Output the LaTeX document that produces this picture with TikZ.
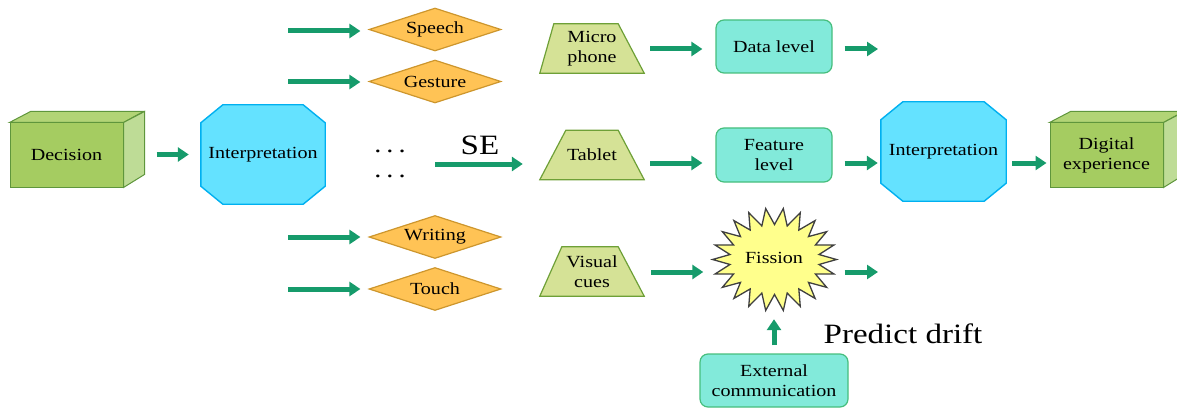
\documentclass[tikz,border=0pt]{standalone}
\usepackage{fontspec}
\setmainfont{Liberation Serif}[FakeStretch=1.18]
\usetikzlibrary{arrows.meta,shapes.geometric,backgrounds}
\definecolor{arrc}{RGB}{22,155,107}
\definecolor{diamf}{RGB}{255,195,85}
\definecolor{diamb}{RGB}{205,150,45}
\definecolor{trapf}{RGB}{213,226,150}
\definecolor{trapb}{RGB}{110,160,55}
\definecolor{rboxf}{RGB}{130,234,218}
\definecolor{rboxb}{RGB}{70,190,125}
\definecolor{octf}{RGB}{100,226,255}
\definecolor{octb}{RGB}{0,176,240}
\definecolor{cubef}{RGB}{165,204,97}
\definecolor{cubes}{RGB}{190,220,150}
\definecolor{cubet}{RGB}{178,212,118}
\definecolor{cubeb}{RGB}{95,150,60}
\definecolor{starf}{RGB}{255,255,140}
\definecolor{starb}{RGB}{64,64,64}
\begin{document}
\begin{tikzpicture}[x=1pt,y=-1pt,
  font=\fontsize{17}{20}\selectfont,
  arr/.style={draw=arrc, line width=5pt, -{Triangle[length=11pt,width=14pt]}},
  diam/.style={diamond, shape aspect=3, draw=diamb, fill=diamf, line width=1.2pt, minimum width=132pt, minimum height=43pt, inner sep=0pt},
  trapnode/.style={rectangle, minimum width=104pt, minimum height=49pt, inner sep=0pt, align=center},
  trapline/.style={draw=trapb, fill=trapf, line width=1.2pt},
  rbox/.style={rectangle, rounded corners=8pt, draw=rboxb, fill=rboxf, line width=1.2pt, minimum width=116pt, minimum height=53pt, align=center, inner sep=0pt},
  octo/.style={rectangle, minimum width=124pt, minimum height=99pt, inner sep=0pt, align=center},
  octline/.style={draw=octb, fill=octf, line width=1.4pt},
  cube/.style={rectangle, draw=cubeb, fill=cubef, line width=1pt, minimum width=113pt, minimum height=64pt, align=center, inner sep=0pt},
  cubeside/.style={draw=cubeb, fill=cubes, line width=1pt},
  cubetop/.style={draw=cubeb, fill=cubet, line width=1pt},
  starnode/.style={rectangle, minimum width=124pt, minimum height=103pt, inner sep=0pt},
  starline/.style={draw=starb, fill=starf, line width=1.3pt, line join=miter},
  big/.style={font=\fontsize{28}{32}\selectfont}
]
\useasboundingbox (0,0) rectangle (1177,409);

% left cube
\node[cube] (dec) at (66.5,155) {Decision};
\draw[cubetop] (dec.north west) -- ++(21,-11) -- ++(113,0) -- (dec.north east) -- cycle;
\draw[cubeside] (dec.north east) -- ++(21,-11) -- ++(0,63) -- (dec.south east) -- cycle;

% interpretation 1
\node[octo] (int1) at (263,154.5) {Interpretation};
\begin{scope}[on background layer]
\draw[octline] ([xshift=22pt]int1.north west) -- ([xshift=-22pt]int1.north east) -- ([yshift=-18pt]int1.north east) -- ([yshift=18pt]int1.south east) -- ([xshift=-22pt]int1.south east) -- ([xshift=22pt]int1.south west) -- ([yshift=18pt]int1.south west) -- ([yshift=-18pt]int1.north west) -- cycle;
\end{scope}

% diamonds
\node[diam] (speech) at (435,29.5) {Speech};
\node[diam] (gesture) at (435,81.5) {Gesture};
\node[diam] (writing) at (435,237) {Writing};
\node[diam] (touch) at (435,289) {Touch};

\coordinate (s1) at (288,31);
\coordinate (s2) at (288,82);
\coordinate (s3) at (288,237);
\coordinate (s4) at (288,289);
\draw[arr, shorten >=8pt] (s1) -- (s1 -| speech.west);
\draw[arr, shorten >=8pt] (s2) -- (s2 -| gesture.west);
\draw[arr, shorten >=8pt] (s3) -- (s3 -| writing.west);
\draw[arr, shorten >=8pt] (s4) -- (s4 -| touch.west);

% dots
\node[anchor=base, font=\fontsize{24}{24}\selectfont] (dots1) at (390,153) {.\hspace{5pt}.\hspace{5pt}.};
\node[anchor=base, font=\fontsize{24}{24}\selectfont] (dots2) at (390,177) {.\hspace{5pt}.\hspace{5pt}.};

% trapezia
\node[trapnode] (micro) at (592,48.5) {Micro\\phone};
\node[trapnode] (tablet) at (592,155) {Tablet};
\node[trapnode] (visual) at (592,271.5) {Visual\\cues};
\begin{scope}[on background layer]
\draw[trapline] (micro.south west) -- (micro.south east) -- ([xshift=-26pt]micro.north east) -- ([xshift=14pt]micro.north west) -- cycle;
\draw[trapline] (tablet.south west) -- (tablet.south east) -- ([xshift=-26pt]tablet.north east) -- ([xshift=26pt]tablet.north west) -- cycle;
\draw[trapline] (visual.south west) -- (visual.south east) -- ([xshift=-26pt]visual.north east) -- ([xshift=22pt]visual.north west) -- cycle;
\end{scope}

% SE arrow
\coordinate (se0) at (435,164);
\draw[arr, shorten >=17pt] (se0) -- (se0 -| tablet.west);
\node[big] (se) at (480,145) {SE};

% rounded boxes
\node[rbox] (data) at (774,46.5) {Data level};
\node[rbox, minimum height=54pt] (feature) at (774,155) {Feature\\level};
\node[rbox, minimum width=148pt] (ext) at (774,380.5) {External\\communication};

% interpretation 2
\node[octo, minimum width=125pt] (int2) at (943.5,151.5) {Interpretation};
\begin{scope}[on background layer]
\draw[octline] ([xshift=22pt]int2.north west) -- ([xshift=-22pt]int2.north east) -- ([yshift=-18pt]int2.north east) -- ([yshift=18pt]int2.south east) -- ([xshift=-22pt]int2.south east) -- ([xshift=22pt]int2.south west) -- ([yshift=18pt]int2.south west) -- ([yshift=-18pt]int2.north west) -- cycle;
\end{scope}

% right cube
\node[cube] (dig) at (1106.5,155) {Digital\\experience};
\draw[cubetop] (dig.north west) -- ++(21,-11) -- ++(113,0) -- (dig.north east) -- cycle;
\draw[cubeside] (dig.north east) -- ++(21,-11) -- ++(0,63) -- (dig.south east) -- cycle;

% fission
\node[starnode] (fis) at (774.5,259.5) {};
\node (fist) at (774,258) {Fission};
\begin{scope}[on background layer, shift={(fis.center)}]
\draw[starline] plot[samples=44, domain=0:43, variable=\k]
  ({ifthenelse(mod(\k,2)==0,62,45)*cos((360/44)*\k)}, {-ifthenelse(mod(\k,2)==0,51.5,35)*sin((360/44)*\k)}) -- cycle;
\end{scope}

% row coordinates
\coordinate (r1) at (0,49);
\coordinate (r2) at (0,163);
\coordinate (r3) at (0,272);
\coordinate (d1) at (878,49);
\coordinate (f1) at (878,272);

% arrows
\draw[arr, shorten <=33pt, shorten >=12pt] (dec.east |- int1) -- (int1.west);
\draw[arr, shorten <=6pt, shorten >=13pt] (micro.east |- r1) -- (data.west |- r1);
\draw[arr, shorten <=12pt] (data.east |- r1) -- (d1);
\draw[arr, shorten <=6pt, shorten >=13pt] (tablet.east |- r2) -- (feature.west |- r2);
\draw[arr, shorten <=12pt, shorten >=3pt] (feature.east |- r2) -- (int2.west |- r2);
\draw[arr, shorten <=6pt, shorten >=3pt] (int2.east |- r2) -- (dig.west |- r2);
\draw[arr, shorten <=7pt, shorten >=9pt] (visual.east |- r3) -- (fis.west |- r3);
\draw[arr, shorten <=8pt] (fis.east |- r3) -- (f1);
\draw[arr, shorten <=8pt, shorten >=8pt] (ext.north) -- (ext.north |- fis.south);

\node[big, anchor=base] (pd) at (903,343) {Predict drift};
\end{tikzpicture}
\end{document}
